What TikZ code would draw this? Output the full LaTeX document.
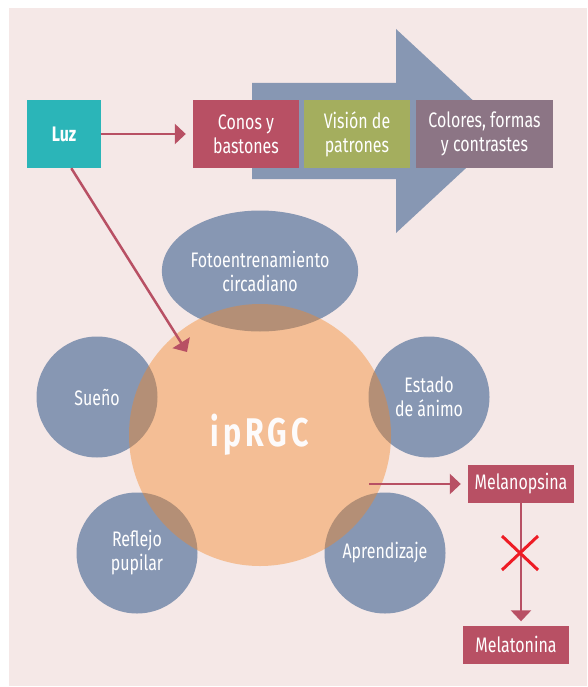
\documentclass[tikz,border=0pt]{standalone}
\usepackage{fontspec}
\setmainfont{Fira Sans}[FakeStretch=0.76]
\usetikzlibrary{shapes.geometric,arrows.meta}

\definecolor{bgpink}{HTML}{F5E8E7}
\definecolor{luzteal}{HTML}{2BB5B8}
\definecolor{rojo}{HTML}{B85064}
\definecolor{oliva}{HTML}{A4AE5E}
\definecolor{malva}{HTML}{8C7585}
\definecolor{azul}{HTML}{8797B3}
\definecolor{naranja}{HTML}{F38624}
\definecolor{cruz}{HTML}{EE1C25}

\tikzset{
    caja/.style 2 args={rectangle, fill=#1, minimum width=#2, minimum height=68pt,
        inner sep=0pt, text=white, align=center, font=\fontsize{21}{24}\selectfont},
    burbuja/.style={ellipse, fill=azul, minimum width=121pt, minimum height=121pt,
        inner sep=0pt, text=white, align=center, font=\fontsize{21}{24}\selectfont},
    etiqueta/.style={rectangle, fill=rojo, minimum width=106pt, minimum height=38pt,
        inner sep=0pt, text=white, font=\fontsize{21}{24}\selectfont},
    flecha/.style={draw=rojo, line width=2.5pt, -{Triangle[width=20pt,length=11pt]}}
}

\begin{document}
\begin{tikzpicture}[x=1pt,y=-1pt]
    \useasboundingbox (0,0) rectangle (587,687);
    \fill[bgpink] (9,8) rectangle (587,686);

    % big arrow behind the boxes
    \fill[azul] (252,83) -- (396,83) -- (396,29) -- (506,131) -- (396,233) -- (396,179) -- (252,179) -- cycle;

    \node[caja={luzteal}{74pt}, font=\fontsize{21}{24}\selectfont\bfseries] (luz) at (64,134) {Luz};
    \node[caja={rojo}{106pt}] (conos) at (246,134) {Conos y\\bastones};
    \node[caja={oliva}{106pt}] (vision) at (357,134) {Visión de\\patrones};
    \node[caja={malva}{137pt}] (colores) at (484.5,134) {Colores, formas\\y contrastes};

    % circles around ipRGC
    \node[burbuja, minimum width=171pt] (foto) at (260,271) {Fotoentrenamiento\\circadiano};
    \node[burbuja] (sueno) at (97,397) {Sueño};
    \node[burbuja] (animo) at (429,397) {Estado\\de ánimo};
    \node[burbuja] (reflejo) at (137,553) {Reflejo\\pupilar};
    \node[burbuja] (aprend) at (385,553) {Aprendizaje};

    % ipRGC
    \node[circle, fill=naranja, fill opacity=0.42, minimum size=262pt] (iprgc) at (260,435) {};
    \node[text=white!85!bgpink, font=\fontsize{40}{40}\selectfont\bfseries\addfontfeature{LetterSpace=10}] at (iprgc) {ipRGC};

    \node[etiqueta] (melanopsina) at (521,484) {Melanopsina};
    \node[etiqueta] (melatonina) at (516,644.5) {Melatonina};

    % arrows
    \coordinate (entrada) at (187,352);
    \coordinate (salida) at (369,484);
    \draw[flecha, shorten >=7pt] (luz.east) -- (conos.west);
    \draw[flecha] (luz.-78) -- (entrada);
    \draw[flecha, shorten >=7pt] (salida) -- (melanopsina.west);
    \draw[flecha, shorten >=4pt] (melanopsina.south) -- (melanopsina.south |- melatonina.north);

    % blocked
    \draw[cruz, line width=3pt] (502,536) -- (538,570) (502,570) -- (538,536);
\end{tikzpicture}
\end{document}
